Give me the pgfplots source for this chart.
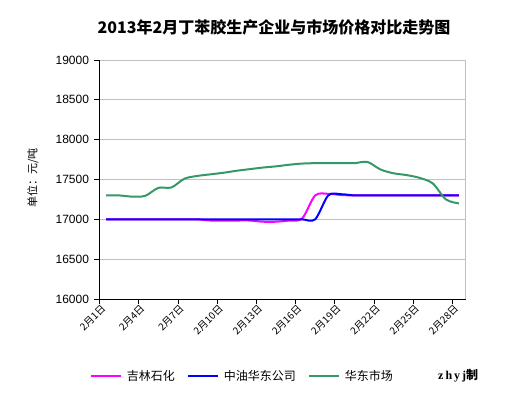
\documentclass[border=0pt]{standalone}
\usepackage{fontspec}
\setmainfont{Liberation Sans}
\newfontfamily\cjk{Noto Sans CJK SC}
\newfontfamily\serifl{Liberation Serif}
\usepackage{pgfplots}
\pgfplotsset{compat=1.18}
\definecolor{mag}{RGB}{255,0,255}
\definecolor{blu}{RGB}{0,0,255}
\definecolor{grn}{RGB}{51,153,102}
\definecolor{gridc}{RGB}{192,192,192}
\begin{document}
\begin{tikzpicture}
\begin{axis}[
  scale only axis, width=366pt, height=239pt,
  xmin=0.5, xmax=28.5, ymin=16000, ymax=19000,
  axis x line*=bottom, axis y line*=left,
  axis line style={black, line width=0.8pt},
  tick align=outside, major tick length=5pt,
  tick style={black, line width=0.8pt},
  xtick={0.5,3.5,...,27.5},
  xticklabels={2月1日,2月4日,2月7日,2月10日,2月13日,2月16日,2月19日,2月22日,2月25日,2月28日},
  x tick label style={font=\cjk\fontsize{10}{12}\selectfont, rotate=45, anchor=east, inner sep=1pt, yshift=-5pt, xshift=2pt},
  ytick={16000,16500,...,19000},
  scaled y ticks=false,
  yticklabel style={font=\fontsize{12}{14}\selectfont, xshift=-2pt},
  /pgf/number format/assume math mode=true,
  /pgf/number format/1000 sep={},
  ymajorgrids, grid style={gridc, line width=0.8pt},
  clip=false,
  legend columns=3,
  legend style={at={(-0.026,-0.321)}, anchor=west, draw=none, inner sep=0pt, outer sep=0pt,
    font=\cjk\fontsize{12}{14}\selectfont,
    nodes={inner sep=0pt},
    /tikz/every odd column/.append style={column sep=5pt},
    /tikz/every even column/.append style={column sep=12pt}},
  legend image code/.code={\draw[#1, line width=2pt] (0pt,0pt) -- (30pt,0pt);},
]
\draw[gridc, line width=0.8pt] (rel axis cs:1,0) -- (rel axis cs:1,1);
\addplot[mag, line width=2pt, smooth, tension=0.5] coordinates {
(1,17000)(2,17000)(3,17000)(4,17000)(5,17000)(6,17000)(7,17000)(8,17000)
(9,16985)(10,16985)(11,16985)(12,16985)(13,16970)(14,16970)(15,16985)
(16,17010)(17,17300)(18,17320)(19,17305)(20,17300)(21,17300)(22,17300)
(23,17300)(24,17300)(25,17300)(26,17300)(27,17300)(28,17300)};
\addlegendentry{吉林石化}
\addplot[blu, line width=2pt, smooth, tension=0.5] coordinates {
(1,17000)(2,17000)(3,17000)(4,17000)(5,17000)(6,17000)(7,17000)(8,17000)
(9,17000)(10,17000)(11,17000)(12,17000)(13,17000)(14,17000)(15,17000)
(16,17000)(17,17000)(18,17300)(19,17315)(20,17300)(21,17300)(22,17300)
(23,17300)(24,17300)(25,17300)(26,17300)(27,17300)(28,17300)};
\addlegendentry{中油华东公司}
\addplot[grn, line width=2pt, smooth, tension=0.5] coordinates {
(1,17300)(2,17300)(3,17285)(4,17295)(5,17395)(6,17400)(7,17510)(8,17545)
(9,17565)(10,17585)(11,17610)(12,17630)(13,17650)(14,17665)(15,17685)
(16,17700)(17,17705)(18,17705)(19,17705)(20,17705)(21,17720)(22,17625)
(23,17578)(24,17555)(25,17520)(26,17450)(27,17250)(28,17200)};
\addlegendentry{华东市场}
\end{axis}
\node[font=\cjk\bfseries\fontsize{16}{18}\selectfont] at ([shift={(174.5pt,272pt)}]current axis.south west) {2013年2月丁苯胶生产企业与市场价格对比走势图};
\node[font=\cjk\fontsize{11}{13}\selectfont, rotate=90] at ([shift={(-66.5pt,121pt)}]current axis.south west) {单位：元/吨};
\node[anchor=west, inner sep=0pt] at ([shift={(338.5pt,-76.7pt)}]current axis.south west) {\serifl\bfseries\fontsize{12}{14}\selectfont z\,h\,y\,j\cjk 制};
\pgfresetboundingbox
\path ([shift={(-99.5pt,-95.7pt)}]current axis.south west) rectangle ([shift={(58.5pt,60pt)}]current axis.north east);
\end{tikzpicture}
\end{document}
